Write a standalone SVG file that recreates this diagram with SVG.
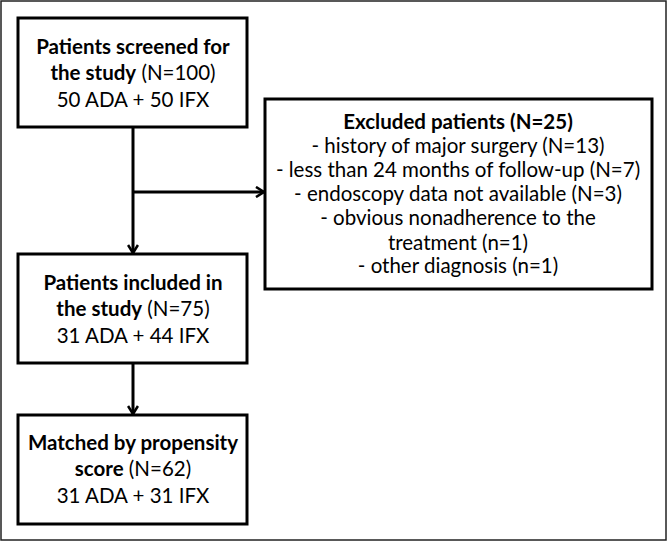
<svg xmlns="http://www.w3.org/2000/svg" width="668" height="542" viewBox="0 0 668 542">
<defs>
<style>
.box{fill:#fff;stroke:#000;stroke-width:3}
.t{font-family:Lato,"Liberation Sans",sans-serif;font-size:20.5px;fill:#000;text-anchor:middle}
.b{font-weight:bold}
.c{fill:none;stroke:#000;stroke-width:3}
</style>
<marker id="ah" viewBox="0 0 12 12" refX="10" refY="6" markerWidth="12" markerHeight="12" markerUnits="userSpaceOnUse" orient="auto">
<path d="M2,1 L10,6 L2,11" fill="none" stroke="#000" stroke-width="2.6"/>
</marker>
</defs>
<rect x="0" y="0" width="668" height="542" fill="#fff"/>
<rect x="1" y="1" width="665" height="539" fill="none" stroke="#222" stroke-width="1.5"/>
<g id="connectors">
<line class="c" x1="133" y1="127" x2="133" y2="253" marker-end="url(#ah)"/>
<line class="c" x1="133" y1="192" x2="264" y2="192" marker-end="url(#ah)"/>
<line class="c" x1="133" y1="363" x2="133" y2="414" marker-end="url(#ah)"/>
</g>
<g id="screened">
<rect class="box" x="18" y="18" width="229" height="109"/>
<text class="t" x="133" y="54"><tspan class="b">Patients screened for</tspan></text>
<text class="t" x="133" y="80"><tspan class="b">the study</tspan> (N=100)</text>
<text class="t" x="133" y="107">50 ADA + 50 IFX</text>
</g>
<g id="excluded">
<rect class="box" x="265" y="99" width="387" height="190"/>
<text class="t" x="458" y="129"><tspan class="b">Excluded patients (N=25)</tspan></text>
<text class="t" x="458" y="153">- history of major surgery (N=13)</text>
<text class="t" x="458" y="177">- less than 24 months of follow-up (N=7)</text>
<text class="t" x="458" y="201">- endoscopy data not available (N=3)</text>
<text class="t" x="458" y="225">- obvious nonadherence to the</text>
<text class="t" x="458" y="250">treatment (n=1)</text>
<text class="t" x="458" y="273">- other diagnosis (n=1)</text>
</g>
<g id="included">
<rect class="box" x="18" y="254" width="229" height="109"/>
<text class="t" x="133" y="290"><tspan class="b">Patients included in</tspan></text>
<text class="t" x="133" y="316"><tspan class="b">the study</tspan> (N=75)</text>
<text class="t" x="133" y="343">31 ADA + 44 IFX</text>
</g>
<g id="matched">
<rect class="box" x="18" y="415" width="229" height="109"/>
<text class="t" x="133" y="450"><tspan class="b">Matched by propensity</tspan></text>
<text class="t" x="133" y="476"><tspan class="b">score</tspan> (N=62)</text>
<text class="t" x="133" y="503">31 ADA + 31 IFX</text>
</g>
</svg>
